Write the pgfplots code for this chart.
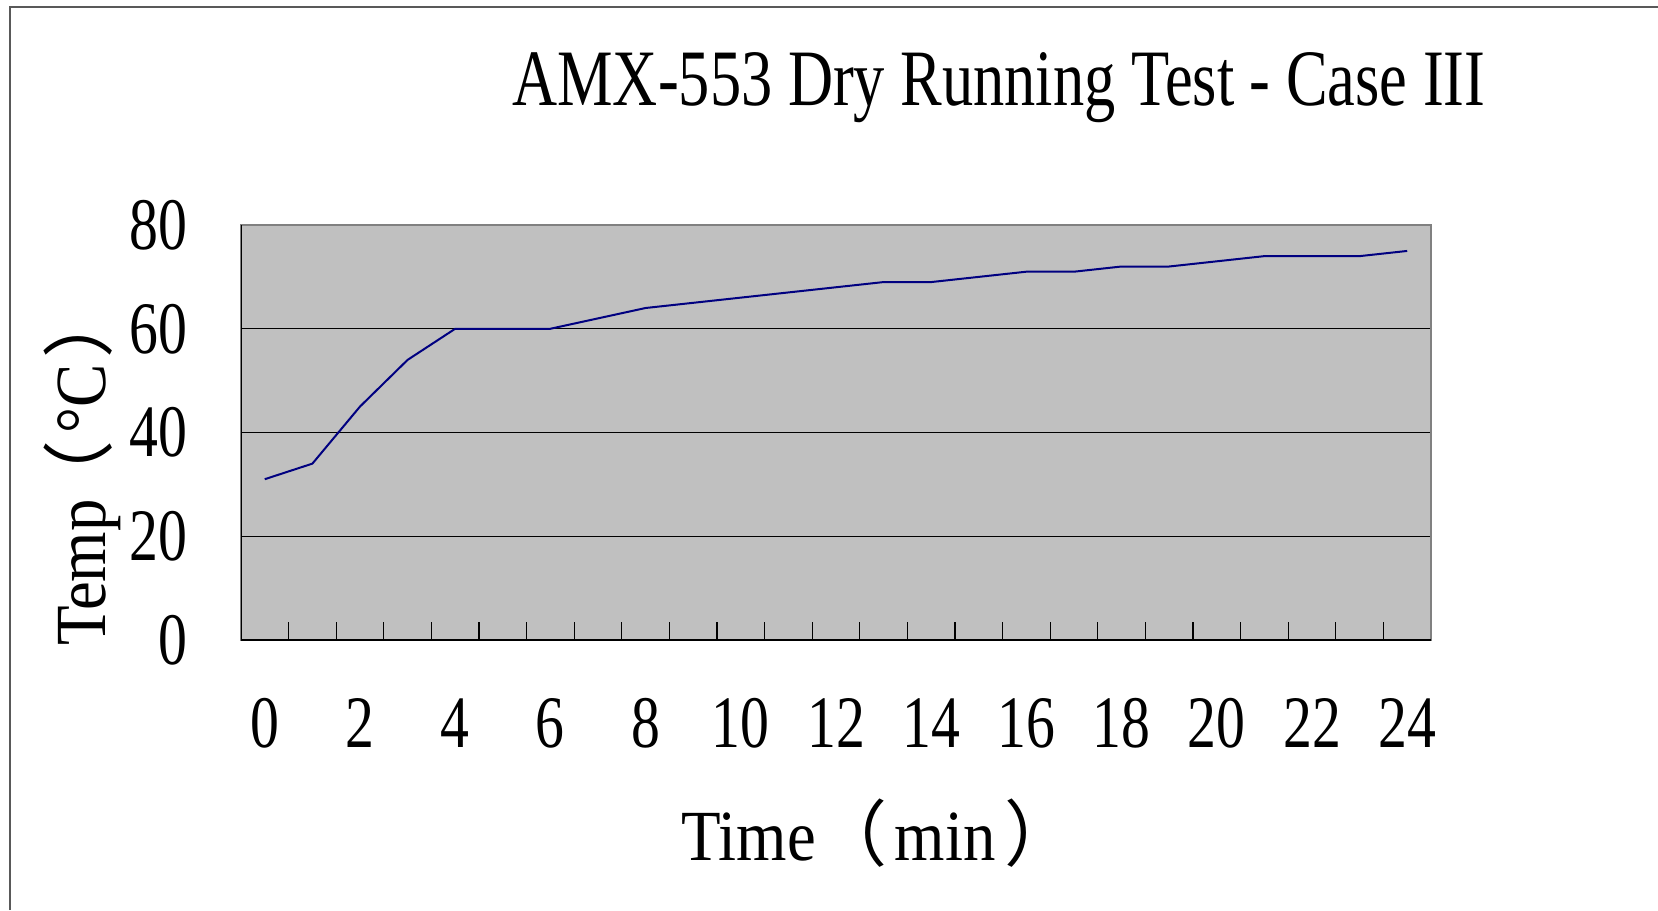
\documentclass[border=0pt]{standalone}
\usepackage{pgfplots}
\pgfplotsset{compat=1.18}
\usepackage{fontspec}
\setmainfont{Liberation Serif}[FakeStretch=0.78]
\newfontfamily\labelfont{Liberation Serif}[FakeStretch=0.9]
\newfontfamily\cjk{Noto Sans CJK TC}
\definecolor{plotbg}{HTML}{C0C0C0}
\definecolor{navyline}{HTML}{000080}
\begin{document}
\begin{tikzpicture}
\useasboundingbox (0,0) rectangle (829pt,455pt);
\draw[line width=0.8pt, black!65] (5pt,0) -- (5pt,451.5pt) -- (829pt,451.5pt);
\node[anchor=base, font=\fontsize{40}{48}\selectfont, inner sep=0pt] at (499.5pt,402pt) {AMX-553 Dry Running Test - Case III};
\begin{axis}[
  at={(120.5pt,135pt)}, anchor=south west,
  scale only axis, width=595pt, height=207.5pt,
  xmin=-0.5, xmax=24.5, ymin=0, ymax=80,
  axis background/.style={fill=plotbg},
  axis line style={draw=gray, line width=0.8pt},
  xtick={-0.5,0.5,...,24.5}, xticklabels={},
  extra x ticks={0,2,4,6,8,10,12,14,16,18,20,22,24},
  extra x tick labels={0,2,4,6,8,10,12,14,16,18,20,22,24},
  extra x tick style={major tick length=0pt, grid=none},
  ytick={0,20,40,60,80},
  ymajorgrids, major grid style={black, line width=0.5pt},
  tick align=inside, xtick pos=bottom, ytick pos=left,
  major tick length=9pt,
  tick style={black, line width=0.6pt},
  tick label style={font=\fontsize{37}{40}\selectfont},
  /pgf/number format/assume math mode=true,
  yticklabel style={inner sep=0pt, anchor=east, xshift=-26.5pt},
  xticklabel style={inner sep=0pt, anchor=north, yshift=-29pt},
  xlabel={Time{\cjk （}\hspace{0.1em}min\hspace{0.12em}{\cjk ）}\hspace{-0.68em}},
  xlabel style={at={(axis description cs:0.536,-0.465)}, anchor=center, font=\labelfont\fontsize{36}{40}\selectfont, inner sep=0pt},
  ylabel={Temp\hspace{-0.18em}{\cjk （}\hspace{0.1em}°C\hspace{0.08em}{\cjk ）}\hspace{-0.68em}},
  ylabel style={at={(axis description cs:-0.1336,0.419)}, anchor=center, font=\labelfont\fontsize{36}{40}\selectfont, inner sep=0pt},
]
\addplot[navyline, line width=1pt, mark=none] coordinates {
  (0,31) (1,34) (2,45) (3,54) (4,60) (5,60) (6,60) (7,62) (8,64) (9,65)
  (10,66) (11,67) (12,68) (13,69) (14,69) (15,70) (16,71) (17,71) (18,72)
  (19,72) (20,73) (21,74) (22,74) (23,74) (24,75)
};
\draw[black, line width=0.8pt] (rel axis cs:0,1) -- (rel axis cs:0,0) -- (rel axis cs:1,0);
\end{axis}
\end{tikzpicture}
\end{document}
